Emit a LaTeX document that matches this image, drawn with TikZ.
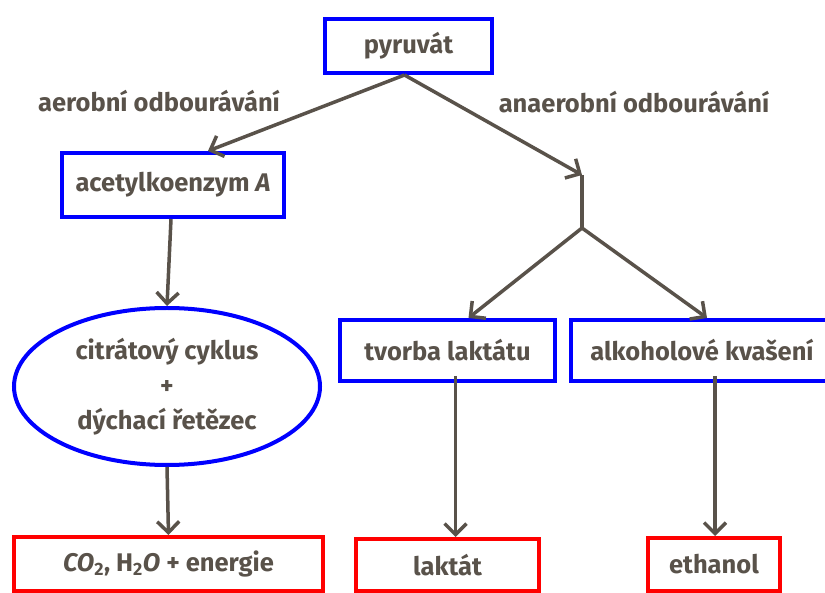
\documentclass[tikz,border=0pt]{standalone}
\usepackage{fontspec}
\setmainfont{Fira Sans}
\usetikzlibrary{arrows.meta,shapes.geometric}
\definecolor{ink}{RGB}{89,82,74}

\begin{document}
\begin{tikzpicture}
  [x=1pt,y=-1pt,
   every node/.style={text=ink,font=\fontsize{25.5}{30}\selectfont\bfseries},
   bluebox/.style={draw=blue,line width=4pt,inner sep=0pt},
   redbox/.style={draw=red,line width=4pt,inner sep=0pt},
   arr/.style={draw=ink,line width=3.5pt,-{Straight Barb[length=11pt,width=22pt]}}]
  \useasboundingbox (0,0) rectangle (825,593);
  \node[bluebox,minimum width=167pt,minimum height=54pt] (pyr) at (408.5,46) {pyruvát};
  \node[bluebox,minimum width=222pt,minimum height=64pt] (acetyl) at (173,185) {acetylkoenzym \textit{A}};
  \node[ellipse,draw=blue,line width=4pt,inner sep=0pt,minimum width=306pt,minimum height=157pt,
        align=center,font=\fontsize{25.5}{35}\selectfont\bfseries] (cyk) at (167,386.5)
        {citrátový cyklus\\+\\dýchací řetězec};
  \node[bluebox,minimum width=215pt,minimum height=61pt] (tvorba) at (447.5,350.5) {tvorba laktátu};
  \node[bluebox,minimum width=262pt,minimum height=61pt] (alkohol) at (702,350.5) {alkoholové kvašení};
  \node[redbox,minimum width=309pt,minimum height=54pt] (co2) at (168.5,564)
        {\textit{CO}\textsubscript{2}, H\textsubscript{2}\textit{O} + energie};
  \node[redbox,minimum width=183pt,minimum height=52pt] (laktat) at (447.5,565) {laktát};
  \node[redbox,minimum width=132pt,minimum height=53pt] (ethanol) at (714,564.5) {ethanol};

  \node (aero) at (159,101) {aerobní odbourávání};
  \node (anaero) at (634,102) {anaerobní odbourávání};

  \coordinate (jt) at (582,175);
  \coordinate (jb) at (582,228);

  \draw[arr] ([xshift=-4pt]pyr.south) -- ([xshift=35pt]acetyl.north);
  \draw[arr] ([xshift=-4pt]pyr.south) -- (jt);
  \draw[ink,line width=3.5pt] (jt) -- (jb);
  \draw[arr] (jb) -- ([xshift=21pt]tvorba.north);
  \draw[arr] (jb) -- ([xshift=5pt]alkohol.north);
  \draw[arr] ([xshift=-2pt]acetyl.south) -- (cyk.north);
  \draw[arr] (cyk.south) -- (co2.north);
  \draw[arr] ([xshift=8pt,yshift=7pt]tvorba.south) -- ([xshift=8pt]laktat.north);
  \draw[arr] ([xshift=13pt,yshift=7pt]alkohol.south) -- ([xshift=1pt]ethanol.north);
\end{tikzpicture}
\end{document}
